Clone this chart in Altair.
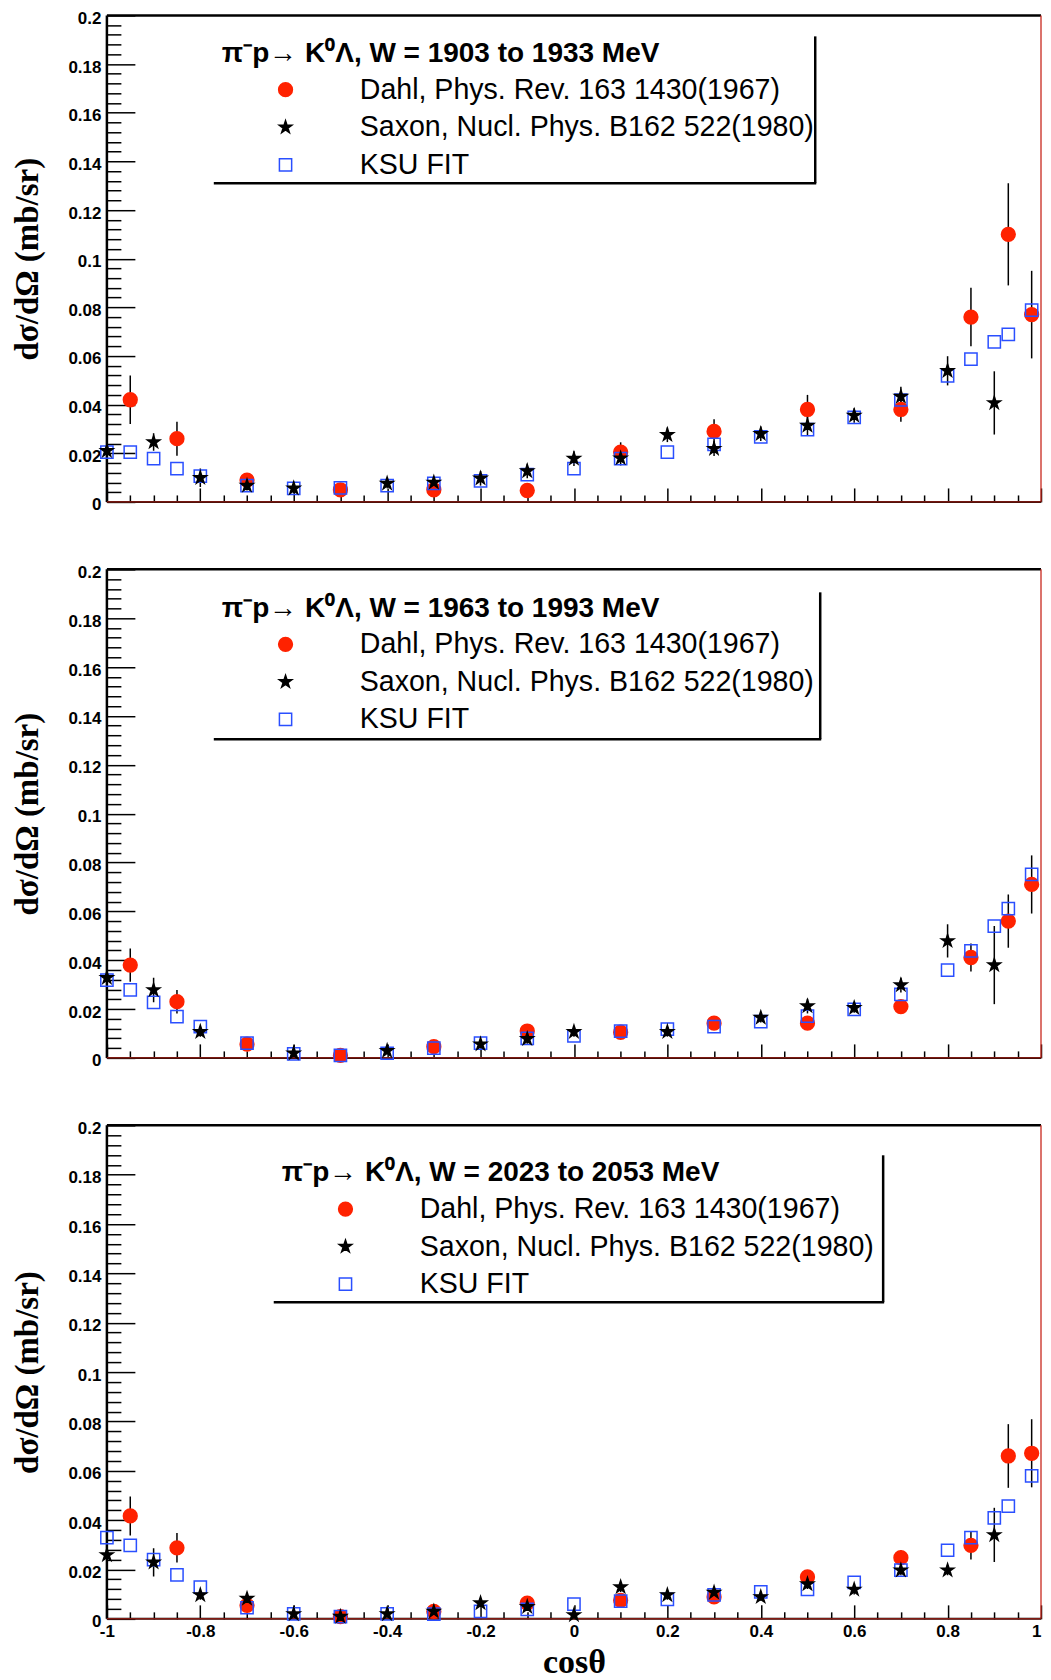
import altair as alt
import pandas as pd

# ---------------- data ----------------
SERIES = ["Dahl, Phys. Rev. 163 1430(1967)",
          "Saxon, Nucl. Phys. B162 522(1980)",
          "KSU FIT"]
HEADERS = ["π⁻p→ K⁰Λ, W = 1903 to 1933 MeV",
           "π⁻p→ K⁰Λ, W = 1963 to 1993 MeV",
           "π⁻p→ K⁰Λ, W = 2023 to 2053 MeV"]

KSU_X = [-1, -0.95, -0.9, -0.85, -0.8, -0.7, -0.6, -0.5, -0.4, -0.3, -0.2, -0.1,
         0, 0.1, 0.2, 0.3, 0.4, 0.5, 0.6, 0.7, 0.8, 0.85, 0.9, 0.93, 0.98]
KSU_Y1 = [0.0205, 0.0205, 0.0178, 0.0137, 0.0106, 0.0067, 0.0056, 0.0058, 0.0067, 0.0076,
          0.0087, 0.0112, 0.0137, 0.0178, 0.0205, 0.0237, 0.0267, 0.0297, 0.0348, 0.0419,
          0.0518, 0.0587, 0.0658, 0.0689, 0.0788]
KSU_Y2 = [0.0318, 0.0278, 0.0227, 0.0169, 0.0128, 0.0060, 0.0016, 0.0010, 0.0019, 0.0040,
          0.0060, 0.0080, 0.0090, 0.0110, 0.0118, 0.0128, 0.0148, 0.0171, 0.0199, 0.0260,
          0.0359, 0.0438, 0.0539, 0.0611, 0.0751]
KSU_Y3 = [0.0329, 0.0298, 0.0240, 0.0178, 0.0129, 0.0045, 0.0020, 0.0009, 0.0020, 0.0019,
          0.0030, 0.0038, 0.0060, 0.0072, 0.0079, 0.0097, 0.0109, 0.0119, 0.0148, 0.0197,
          0.0278, 0.0329, 0.0409, 0.0457, 0.0579]

DAHL_X = [-0.95, -0.85, -0.7, -0.5, -0.3, -0.1, 0.1, 0.3, 0.5, 0.7, 0.85, 0.93, 0.98]
DAHL_Y1 = [0.042, 0.026, 0.009, 0.005, 0.005, 0.0047, 0.0205, 0.029, 0.038, 0.038, 0.076, 0.110, 0.077]
DAHL_E1 = [0.010, 0.007, 0.002, 0.002, 0.002, 0.002, 0.004, 0.005, 0.006, 0.005, 0.012, 0.021, 0.018]
DAHL_Y2 = [0.038, 0.023, 0.0056, 0.001, 0.0046, 0.011, 0.0105, 0.0142, 0.0142, 0.021, 0.0411, 0.056, 0.071]
DAHL_E2 = [0.0068, 0.0048, 0.0015, 0.001, 0.0015, 0.002, 0.002, 0.002, 0.002, 0.002, 0.0057, 0.0109, 0.0119]
DAHL_Y3 = [0.0417, 0.0288, 0.0055, 0.0009, 0.003, 0.0064, 0.0075, 0.0089, 0.017, 0.0248, 0.0298, 0.066, 0.0671]
DAHL_E3 = [0.0079, 0.006, 0.0015, 0.001, 0.001, 0.0015, 0.002, 0.002, 0.002, 0.003, 0.0057, 0.0129, 0.0138]

SAXON_X1 = [-1, -0.9, -0.8, -0.7, -0.6, -0.4, -0.3, -0.2, -0.1, 0, 0.1, 0.2, 0.3, 0.4, 0.5, 0.6, 0.7, 0.8, 0.9]
SAXON_Y1 = [0.021, 0.0246, 0.0099, 0.0067, 0.0056, 0.0076, 0.008, 0.0097, 0.0127, 0.0178, 0.018, 0.0276,
            0.0219, 0.028, 0.0314, 0.0355, 0.0433, 0.0539, 0.0407]
SAXON_E1 = [0.002, 0.0036, 0.0038, 0.002, 0.002, 0.002, 0.002, 0.003, 0.003, 0.003, 0.003, 0.003,
            0.003, 0.003, 0.004, 0.003, 0.004, 0.006, 0.013]
SAXON_X2 = [-1, -0.9, -0.8, -0.6, -0.4, -0.2, -0.1, 0, 0.2, 0.4, 0.5, 0.6, 0.7, 0.8, 0.9]
SAXON_Y2 = [0.0328, 0.0278, 0.0107, 0.0019, 0.0029, 0.0056, 0.0078, 0.0107, 0.0107, 0.0165, 0.0212,
            0.0205, 0.0298, 0.0479, 0.038]
SAXON_E2 = [0.002, 0.005, 0.002, 0.001, 0.001, 0.001, 0.002, 0.002, 0.002, 0.002, 0.003,
            0.002, 0.003, 0.0068, 0.016]
SAXON_X3 = [-1, -0.9, -0.8, -0.7, -0.6, -0.5, -0.4, -0.3, -0.2, -0.1, 0, 0.1, 0.2, 0.3, 0.4, 0.5,
            0.6, 0.7, 0.8, 0.9]
SAXON_Y3 = [0.0259, 0.0229, 0.0097, 0.0082, 0.002, 0.0009, 0.002, 0.003, 0.0064, 0.0049, 0.0016,
            0.0129, 0.0097, 0.0107, 0.0089, 0.0141, 0.0119, 0.0197, 0.0197, 0.034]
SAXON_E3 = [0.002, 0.0057, 0.002, 0.0015, 0.001, 0.001, 0.001, 0.001, 0.0015, 0.0015, 0.001,
            0.002, 0.002, 0.002, 0.0015, 0.002, 0.002, 0.002, 0.002, 0.011]

PANELS = [
    dict(dahl=(DAHL_X, DAHL_Y1, DAHL_E1), saxon=(SAXON_X1, SAXON_Y1, SAXON_E1), ksu=(KSU_X, KSU_Y1)),
    dict(dahl=(DAHL_X, DAHL_Y2, DAHL_E2), saxon=(SAXON_X2, SAXON_Y2, SAXON_E2), ksu=(KSU_X, KSU_Y2)),
    dict(dahl=(DAHL_X, DAHL_Y3, DAHL_E3), saxon=(SAXON_X3, SAXON_Y3, SAXON_E3), ksu=(KSU_X, KSU_Y3)),
]

# axis ticks
X_MIN, X_MAX = -1, 1
Y_MIN, Y_MAX = 0, 0.2
X_TICKS = [-1, -0.8, -0.6, -0.4, -0.2, 0, 0.2, 0.4, 0.6, 0.8, 1]
X_MINOR = [round(-1 + 0.05 * k, 2) for k in range(41) if k % 4]
Y_TICKS = [0, 0.02, 0.04, 0.06, 0.08, 0.1, 0.12, 0.14, 0.16, 0.18, 0.2]
Y_MINOR = [round(0.004 * k, 3) for k in range(51) if k % 5]

# ---------------- layout / style ----------------
W = 935
HEIGHTS = [487, 489, 494]
RED = "#ff2200"
BLUE = "#2a4fff"
STAR = ("M0,-1L0.2245,-0.309L0.951,-0.309L0.363,0.118L0.588,0.809L0,0.382"
        "L-0.588,0.809L-0.363,0.118L-0.951,-0.309L-0.2245,-0.309Z")
SANS = "Liberation Sans"
SERIF = "Liberation Serif"
# legend placement (plot-relative pixels): legendX, legendY, box left, right, top, bottom
LEG = [dict(lx=115, ly=24.6, l=107, r=709, t=21, b=168),
       dict(lx=115, ly=25.2, l=107, r=714, t=23, b=170),
       dict(lx=175, ly=34, l=167, r=777, t=30, b=177)]


def make_panel(i):
    h = HEIGHTS[i]
    show_x = (i == 2)
    p = PANELS[i]
    xs = alt.Scale(domain=[X_MIN, X_MAX], nice=False, zero=False)
    ys = alt.Scale(domain=[Y_MIN, Y_MAX], nice=False, zero=False)

    dx, dy, de = p["dahl"]
    sx, sy, se = p["saxon"]
    kx, ky = p["ksu"]
    pts = pd.concat([
        pd.DataFrame({"cos": dx, "val": dy, "series": SERIES[0]}),
        pd.DataFrame({"cos": kx, "val": ky, "series": SERIES[2]}),
        pd.DataFrame({"cos": sx, "val": sy, "series": SERIES[1]}),
    ], ignore_index=True)
    err = pd.concat([
        pd.DataFrame({"cos": dx, "lo": [v - e for v, e in zip(dy, de)], "hi": [v + e for v, e in zip(dy, de)]}),
        pd.DataFrame({"cos": sx, "lo": [v - e for v, e in zip(sy, se)], "hi": [v + e for v, e in zip(sy, se)]}),
    ], ignore_index=True)

    frame_df = pd.DataFrame({"xl": [X_MIN], "xr": [X_MAX], "yb": [Y_MIN], "yt": [Y_MAX]})
    fb = alt.Chart(frame_df)
    left = fb.mark_rule(color="black", strokeWidth=2.5).encode(x=alt.X("xl:Q", scale=xs, axis=None))
    top = fb.mark_rule(color="black", strokeWidth=2.5).encode(y=alt.Y("yt:Q", scale=ys, axis=None))
    right = fb.mark_rule(color="#c8281c", strokeWidth=1.3).encode(x=alt.X("xr:Q", scale=xs, axis=None))
    bot_k = fb.mark_rule(color="black", strokeWidth=2).encode(y=alt.Y("yb:Q", scale=ys, axis=None))
    bot_r = fb.mark_rule(color="#c8281c", strokeWidth=1).encode(y=alt.Y("yb:Q", scale=ys, axis=None))

    errs = alt.Chart(err).mark_rule(color="black", strokeWidth=1.5, clip=True).encode(
        x=alt.X("cos:Q", scale=xs,
                axis=alt.Axis(orient="bottom", values=X_MINOR, tickSize=7, offset=-7, labels=False,
                              domain=False, grid=False, title="", tickColor="black", tickWidth=1.5)),
        y=alt.Y("lo:Q", scale=ys,
                axis=alt.Axis(orient="left", values=Y_MINOR, tickSize=14, offset=-14, labels=False,
                              domain=False, grid=False, title="", tickColor="black", tickWidth=1.5)),
        y2="hi:Q",
    )

    L = LEG[i]
    legend = alt.Legend(
        title=HEADERS[i], orient="none", legendX=L["lx"], legendY=L["ly"], direction="vertical",
        titleFont=SANS, titleFontSize=28, titleFontWeight="bold", titleColor="black",
        titleLimit=900, titlePadding=7.5,
        labelFont=SANS, labelFontSize=28.6, labelColor="black", labelLimit=900,
        labelOffset=60, symbolOffset=49.5, rowPadding=8.6, padding=0, symbolStrokeWidth=1.5,
    )
    xaxis = alt.Axis(orient="bottom", values=X_TICKS, tickSize=14, offset=-14, labels=show_x,
                     labelExpr="'' + datum.value", labelFont=SANS, labelFontSize=17,
                     labelFontWeight="bold", labelColor="black", labelPadding=5,
                     labelAlign={"condition": {"test": "datum.value >= 1", "value": "right"},
                                 "value": "center"},
                     labelFlush=False, labelOverlap=False,
                     domain=False, grid=False, tickColor="black", tickWidth=1.5,
                     title="cosθ" if show_x else "", titleFont=SERIF, titleFontSize=34,
                     titleFontWeight="bold", titleColor="black", titleX=W / 2, titleY=68,
                     titleBaseline="alphabetic", titleAlign="center")
    yaxis = alt.Axis(orient="left", values=Y_TICKS, tickSize=28, offset=-28,
                     labelExpr="'' + datum.value", labelFont=SANS, labelFontSize=17,
                     labelFontWeight="bold", labelColor="black", labelPadding=6, labelOffset=3,
                     labelOverlap=False,
                     domain=False, grid=False, tickColor="black", tickWidth=1.5,
                     title="dσ/dΩ (mb/sr)", titleFont=SERIF, titleFontSize=33,
                     titleFontWeight="bold", titleColor="black", titleX=-90, titleY=h / 2,
                     titleBaseline="bottom", titleAlign="center", titleAngle=270)
    points = alt.Chart(pts).mark_point(filled=True, opacity=1, strokeWidth=1.5).encode(
        x=alt.X("cos:Q", scale=xs, axis=xaxis),
        y=alt.Y("val:Q", scale=ys, axis=yaxis),
        shape=alt.Shape("series:N", scale=alt.Scale(domain=SERIES, range=["circle", STAR, "square"]),
                        legend=legend),
        fill=alt.Fill("series:N", scale=alt.Scale(domain=SERIES, range=[RED, "black", "transparent"]),
                      legend=legend),
        stroke=alt.Stroke("series:N", scale=alt.Scale(domain=SERIES, range=[RED, "black", BLUE]),
                          legend=legend),
        size=alt.Size("series:N", scale=alt.Scale(domain=SERIES, range=[190, 150, 196]),
                      legend=legend),
    )

    one = pd.DataFrame({"k": [0]})
    vline = alt.Chart(one).mark_rule(color="black", strokeWidth=2.5).encode(
        x=alt.value(L["r"]), y=alt.value(L["t"]), y2=alt.value(L["b"]))
    hline = alt.Chart(one).mark_rule(color="black", strokeWidth=2.5).encode(
        x=alt.value(L["l"]), x2=alt.value(L["r"] + 1), y=alt.value(L["b"]))

    return alt.layer(left, top, right, bot_k, bot_r, errs, points, vline, hline).resolve_axis(
        x="independent", y="independent").properties(width=W, height=h)


panels = [make_panel(i) for i in range(3)]
chart = alt.vconcat(*panels, spacing=67.5, bounds="flush").resolve_scale(
    shape="independent", fill="independent", stroke="independent", size="independent"
).properties(
    padding={"left": 4, "top": 0.6, "right": 0, "bottom": 0}
).configure_view(stroke=None)

chart.save("out.html", embed_options={"renderer": "svg", "actions": False})
